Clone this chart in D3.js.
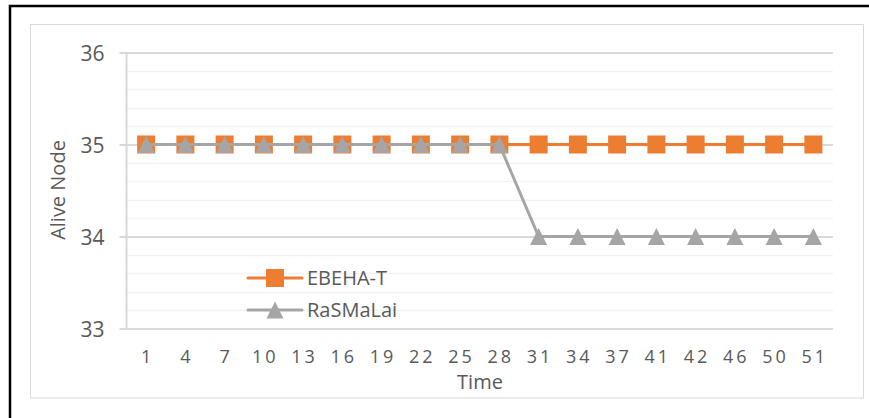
<!DOCTYPE html>
<html>
<head>
<meta charset="utf-8">
<script src="https://cdn.jsdelivr.net/npm/d3@7"></script>
<style>
  body { margin: 0; background: #fff; }
  text { font-family: "Open Sans", sans-serif; fill: #595959; }
</style>
</head>
<body>
<div id="chart"></div>
<script>
// Data
const times = ["1", "4", "7", "10", "13", "16", "19", "22", "25", "28", "31", "34", "37", "41", "42", "46", "50", "51"];
const ebehaT = [35, 35, 35, 35, 35, 35, 35, 35, 35, 35, 35, 35, 35, 35, 35, 35, 35, 35];
const rasmalai = [35, 35, 35, 35, 35, 35, 35, 35, 35, 35, 34, 34, 34, 34, 34, 34, 34, 34];
const yTicks = [33, 34, 35, 36];

const width = 869;
const height = 418;
const plot = { left: 126.5, right: 833, top: 52.5, bottom: 328.5 };

const orange = "#ED7D31";
const gray = "#A5A5A5";

const svg = d3.select("#chart")
  .append("svg")
  .attr("width", width)
  .attr("height", height);

// outer black frame (only top/left visible)
svg.append("path")
  .attr("d", `M10,${height} V6 H${width}`)
  .attr("fill", "none")
  .attr("stroke", "#000")
  .attr("stroke-width", 2.5);

// chart area border
svg.append("rect")
  .attr("x", 30.5).attr("y", 24.5)
  .attr("width", 833).attr("height", 373.5)
  .attr("fill", "#fff")
  .attr("stroke", "#d9d9d9")
  .attr("stroke-width", 1);

const x = d3.scaleBand()
  .domain(times)
  .range([plot.left, plot.right])
  .padding(0);

const y = d3.scaleLinear()
  .domain([33, 36])
  .range([plot.bottom, plot.top]);

const cx = d => x(d) + x.bandwidth() / 2;

// minor gridlines
const minor = d3.range(33, 36.001, 0.2).filter(v => Math.abs(v - Math.round(v)) > 0.01);
svg.append("g")
  .selectAll("line")
  .data(minor)
  .join("line")
  .attr("x1", plot.left).attr("x2", plot.right)
  .attr("y1", d => Math.round(y(d)) + 0.5).attr("y2", d => Math.round(y(d)) + 0.5)
  .attr("stroke", "#f2f2f2")
  .attr("stroke-width", 1.5);

// major gridlines + y axis
const yAxis = svg.append("g")
  .attr("transform", `translate(${plot.left},0)`)
  .call(d3.axisLeft(y)
    .tickValues(yTicks)
    .tickFormat(d3.format("d"))
    .tickSize(-(plot.right - plot.left)));
yAxis.select(".domain").remove();
yAxis.selectAll(".tick line")
  .attr("stroke", "#d9d9d9")
  .attr("stroke-width", 2)
  .attr("x1", -7);
yAxis.selectAll(".tick text")
  .attr("x", -22)
  .attr("dy", "0.36em")
  .style("font-size", "21px")
  .style("font-family", "'Open Sans', sans-serif")
  .attr("fill", "#595959");

// vertical axis line
svg.append("line")
  .attr("x1", plot.left).attr("x2", plot.left)
  .attr("y1", plot.top).attr("y2", plot.bottom)
  .attr("stroke", "#d9d9d9")
  .attr("stroke-width", 2);

// x axis labels
const xAxis = svg.append("g")
  .attr("transform", `translate(0,${plot.bottom})`)
  .call(d3.axisBottom(x).tickSize(0).tickPadding(0));
xAxis.select(".domain").remove();
xAxis.selectAll(".tick text")
  .attr("y", 28)
  .attr("dy", "0.36em")
  .style("font-size", "18px")
  .style("font-family", "'Open Sans', sans-serif")
  .style("letter-spacing", "3px")
  .attr("dx", "1.5px")
  .attr("fill", "#595959");

// axis titles
svg.append("text")
  .attr("x", 480).attr("y", 389)
  .attr("text-anchor", "middle")
  .style("font-size", "20px")
  .text("Time");

svg.append("text")
  .attr("transform", "translate(65,190) rotate(-90)")
  .attr("text-anchor", "middle")
  .style("font-size", "20px")
  .text("Alive Node");

const line = d3.line()
  .x(d => cx(d.t))
  .y(d => y(d.v));

const seriesE = times.map((t, i) => ({ t, v: ebehaT[i] }));
const seriesR = times.map((t, i) => ({ t, v: rasmalai[i] }));

const square = "M-9,-9H9V9H-9Z";
const triangle = "M0,-8.5L8.5,8.5H-8.5Z";

// EBEHA-T
svg.append("path")
  .datum(seriesE)
  .attr("d", line)
  .attr("fill", "none")
  .attr("stroke", orange)
  .attr("stroke-width", 3);
svg.append("g")
  .selectAll("path")
  .data(seriesE)
  .join("path")
  .attr("transform", d => `translate(${cx(d.t)},${y(d.v)})`)
  .attr("d", square)
  .attr("fill", orange);

// RaSMaLai
svg.append("path")
  .datum(seriesR)
  .attr("d", line)
  .attr("fill", "none")
  .attr("stroke", gray)
  .attr("stroke-width", 3);
svg.append("g")
  .selectAll("path")
  .data(seriesR)
  .join("path")
  .attr("transform", d => `translate(${cx(d.t)},${y(d.v)})`)
  .attr("d", triangle)
  .attr("fill", gray);

// legend
const legendItems = [
  { name: "EBEHA-T", color: orange, shape: square },
  { name: "RaSMaLai", color: gray, shape: triangle }
];
const legend = svg.append("g")
  .attr("transform", "translate(248,278)");
const li = legend.selectAll("g")
  .data(legendItems)
  .join("g")
  .attr("transform", (d, i) => `translate(0,${i * 32})`);
li.append("line")
  .attr("x1", 0).attr("x2", 54)
  .attr("stroke", d => d.color)
  .attr("stroke-width", 3)
  .attr("stroke-linecap", "round");
li.append("path")
  .attr("transform", "translate(27,0)")
  .attr("d", d => d.shape)
  .attr("fill", d => d.color);
li.append("text")
  .attr("x", 59)
  .attr("dy", "0.36em")
  .style("font-size", "20px")
  .text(d => d.name);
</script>
</body>
</html>
